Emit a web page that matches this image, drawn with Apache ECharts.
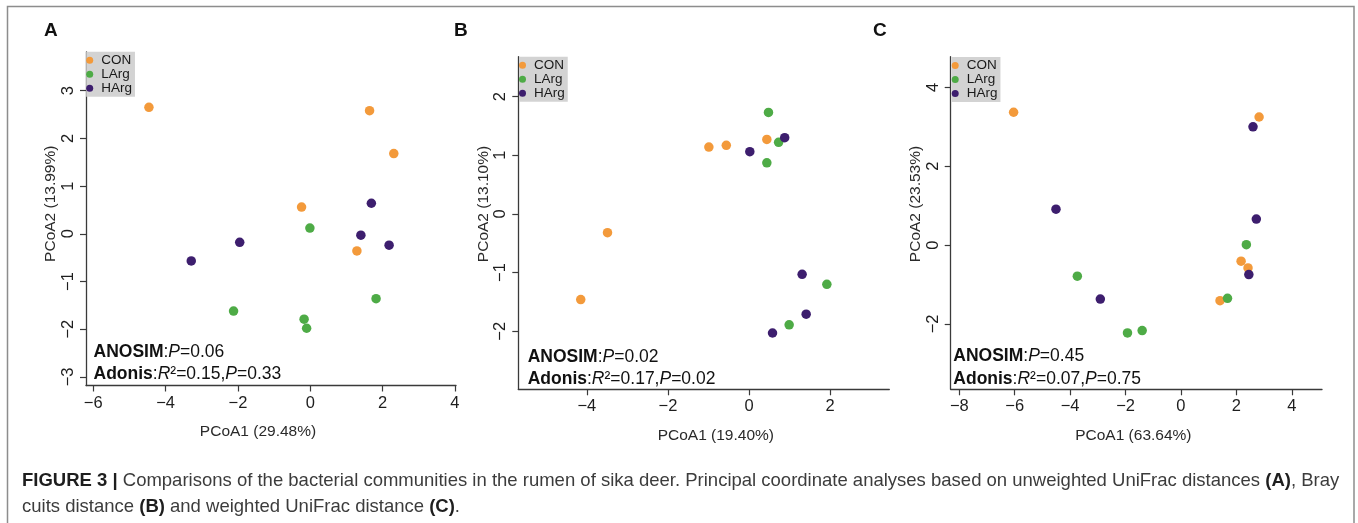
<!DOCTYPE html>
<html>
<head>
<meta charset="utf-8">
<script src="https://cdn.jsdelivr.net/npm/echarts@6/dist/echarts.min.js"></script>
<style>
html,body{margin:0;padding:0;background:#fff;}
#chart{width:1358px;height:523px;}
</style>
</head>
<body>
<div id="chart"></div>
<script>
// ---------- data ----------
const groups = ['CON', 'LArg', 'HArg'];
const groupColors = ['#F39A3B', '#4EAB46', '#3D1E6E'];

// Panel A: unweighted UniFrac
const conA  = [[-4.46, 2.65], [1.64, 2.58], [2.31, 1.68], [-0.24, 0.56], [1.29, -0.36]];
const largA = [[-0.01, 0.12], [-2.12, -1.62], [-0.17, -1.79], [-0.10, -1.98], [1.82, -1.36]];
const hargA = [[1.69, 0.64], [1.40, -0.03], [2.18, -0.24], [-1.95, -0.18], [-3.29, -0.57]];

// Panel B: Bray-Curtis
const conB  = [[-0.99, 1.14], [-0.56, 1.17], [0.44, 1.27], [-3.49, -0.32], [-4.15, -1.46]];
const largB = [[0.48, 1.73], [0.73, 1.22], [0.44, 0.87], [1.92, -1.20], [0.99, -1.89]];
const hargB = [[0.02, 1.06], [0.88, 1.30], [1.31, -1.03], [1.41, -1.71], [0.58, -2.03]];

// Panel C: weighted UniFrac
const conC  = [[-6.04, 3.37], [2.82, 3.25], [2.17, -0.41], [2.42, -0.58], [1.41, -1.41]];
const largC = [[2.36, 0.01], [1.68, -1.35], [-3.74, -0.79], [-1.93, -2.23], [-1.40, -2.17]];
const hargC = [[2.60, 3.00], [2.72, 0.66], [2.45, -0.75], [-4.51, 0.91], [-2.91, -1.37]];

// tick labels
const xTicksA = [-6, -4, -2, 0, 2, 4];
const yTicksA = [-3, -2, -1, 0, 1, 2, 3];
const xTicksB = [-4, -2, 0, 2];
const yTicksB = [-2, -1, 0, 1, 2];
const xTicksC = [-8, -6, -4, -2, 0, 2, 4];
const yTicksC = [-2, 0, 2, 4];

// axis titles
const xTitles = ['PCoA1 (29.48%)', 'PCoA1 (19.40%)', 'PCoA1 (63.64%)'];
const yTitles = ['PCoA2 (13.99%)', 'PCoA2 (13.10%)', 'PCoA2 (23.53%)'];
const panelLetters = ['A', 'B', 'C'];
const anosimP = ['0.06', '0.02', '0.45'];
const adonisR2 = ['0.15', '0.17', '0.07'];
const adonisP = ['0.33', '0.02', '0.75'];

// ---------- layout (styles/positions only) ----------
const panels = [
  {grid: {left: 86, top: 52, width: 370, height: 333.5}, xr: [-6.20, 4.03], yr: [-3.18, 3.81],
   xt: xTicksA, yt: yTicksA, xPad: [0, 26, 0, 0], yPad: [0, 0, 0, 30], letter: [44, 21], ann: [93.5, 340.5], leg: [86.2, 51.7]},
  {grid: {left: 518.3, top: 56.7, width: 371, height: 332.6}, xr: [-5.69, 3.46], yr: [-2.99, 2.68],
   xt: xTicksB, yt: yTicksB, xPad: [0, 0, 0, 24], yPad: [0, 0, 0, 38], letter: [454, 21], ann: [527.7, 345.5], leg: [519, 56.7]},
  {grid: {left: 950.7, top: 56.7, width: 371.3, height: 332.6}, xr: [-8.31, 5.09], yr: [-3.66, 4.78],
   xt: xTicksC, yt: yTicksC, xPad: [0, 6, 0, 0], yPad: [0, 0, 0, 38], letter: [873, 21], ann: [953.3, 345], leg: [951.7, 56.9]}
];
const seriesSets = [[conA, largA, hargA], [conB, largB, hargB], [conC, largC, hargC]];

const FONT = "'Liberation Sans', Arial, sans-serif";
const axisColor = '#3a3a3a';
const minus = v => String(v).replace('-', '\u2212');

const option = {
  animation: false,
  backgroundColor: '#ffffff',
  textStyle: {fontFamily: FONT},
  grid: [], xAxis: [], yAxis: [], series: [], legend: [], title: [],
  graphic: [
    {type: 'rect', shape: {x: 7.5, y: 6.5, width: 1346.5, height: 530}, style: {fill: 'none', stroke: '#8d8d8d', lineWidth: 1.5}, silent: true}
  ]
};

panels.forEach((p, i) => {
  option.grid.push(Object.assign({containLabel: false}, p.grid));
  option.xAxis.push({
    type: 'value', gridIndex: i, min: p.xr[0], max: p.xr[1],
    name: xTitles[i], nameLocation: 'middle', nameGap: 38,
    nameTextStyle: {fontSize: 15.5, color: '#2a2a2a', fontFamily: FONT, padding: p.xPad},
    axisLine: {show: true, onZero: false, lineStyle: {color: axisColor, width: 1.3}},
    axisTick: {show: true, length: 6, customValues: p.xt, lineStyle: {color: axisColor, width: 1.2}},
    axisLabel: {customValues: p.xt, formatter: minus, fontSize: 16.5, color: '#1e1e1e', margin: 9, fontFamily: FONT},
    splitLine: {show: false}
  });
  option.yAxis.push({
    type: 'value', gridIndex: i, min: p.yr[0], max: p.yr[1],
    name: yTitles[i], nameLocation: 'middle', nameGap: 27,
    nameTextStyle: {fontSize: 15.5, color: '#2a2a2a', fontFamily: FONT, padding: p.yPad},
    axisLine: {show: true, onZero: false, lineStyle: {color: axisColor, width: 1.3}},
    axisTick: {show: true, length: 6, customValues: p.yt, lineStyle: {color: axisColor, width: 1.2}},
    axisLabel: {customValues: p.yt, formatter: minus, rotate: 90, fontSize: 16.5, color: '#1e1e1e', margin: 9, fontFamily: FONT},
    splitLine: {show: false}
  });
  seriesSets[i].forEach((d, g) => {
    option.series.push({
      type: 'scatter', name: groups[g], xAxisIndex: i, yAxisIndex: i,
      data: d, symbol: 'circle', symbolSize: 9.5,
      itemStyle: {color: groupColors[g], opacity: 1}
    });
  });
  option.legend.push({
    data: groups.map((n, g) => ({name: n, itemStyle: {color: groupColors[g]}})),
    orient: 'vertical', left: p.leg[0], top: p.leg[1],
    backgroundColor: '#d3d3d3', padding: [1.5, 3, 1.5, 0], itemGap: 0,
    icon: 'circle', itemWidth: 13, itemHeight: 7, selectedMode: false,
    textStyle: {fontSize: 13.5, lineHeight: 11.7, color: '#1a1a1a', fontFamily: FONT}
  });
  option.title.push({
    text: panelLetters[i], left: p.letter[0], top: p.letter[1], padding: 0,
    textStyle: {fontSize: 19, fontWeight: 'bold', color: '#111', fontFamily: FONT}
  });
  option.title.push({
    text: '{b|ANOSIM}:{i|P}=' + anosimP[i] + '\n{b|Adonis}:{i|R}\u00B2=' + adonisR2[i] + ',{i|P}=' + adonisP[i],
    left: p.ann[0], top: p.ann[1], padding: 0,
    textStyle: {fontSize: 17.5, lineHeight: 22.5, fontWeight: 'normal', color: '#111', fontFamily: FONT,
      rich: {
        b: {fontSize: 17.5, lineHeight: 22.5, fontWeight: 'bold', color: '#111', fontFamily: FONT},
        i: {fontSize: 17.5, lineHeight: 22.5, fontStyle: 'italic', color: '#111', fontFamily: FONT}
      }}
  });
});

option.title.push({
  text: '{b|FIGURE 3 |} Comparisons of the bacterial communities in the rumen of sika deer. Principal coordinate analyses based on unweighted UniFrac distances {b|(A)}, Bray\ncuits distance {b|(B)} and weighted UniFrac distance {b|(C)}.',
  left: 22, top: 468, padding: 0,
  textStyle: {fontSize: 18.5, lineHeight: 26, fontWeight: 'normal', color: '#3c3c3c', fontFamily: FONT,
    rich: {b: {fontSize: 18.5, lineHeight: 26, fontWeight: 'bold', color: '#1e1e1e', fontFamily: FONT}}}
});

const chart = echarts.init(document.getElementById('chart'), null, {renderer: 'canvas'});
chart.setOption(option);
</script>
</body>
</html>
